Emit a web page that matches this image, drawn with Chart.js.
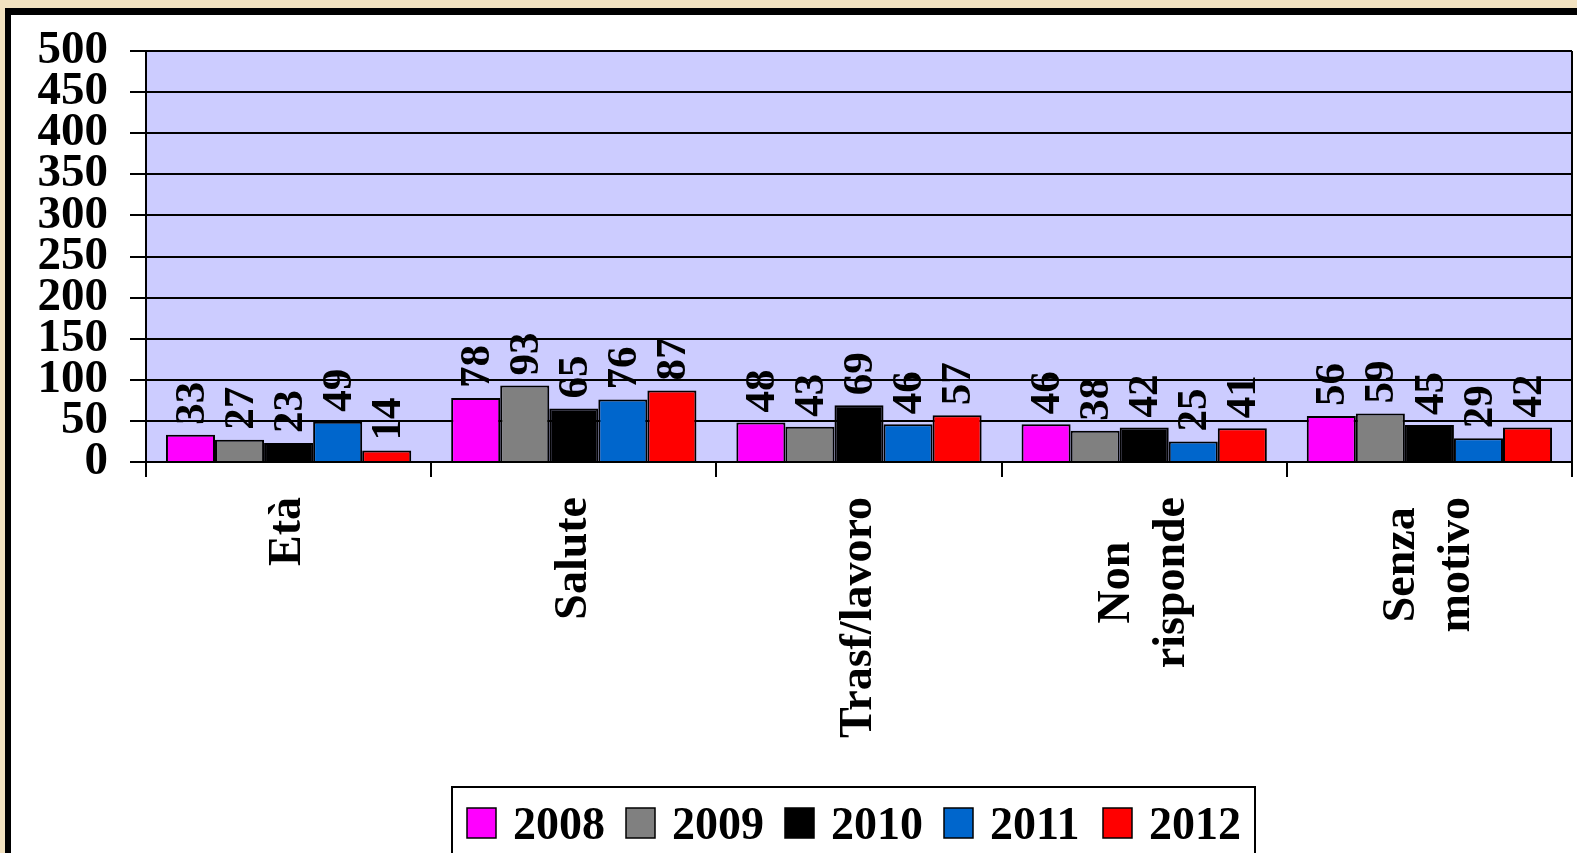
<!DOCTYPE html>
<html>
<head>
<meta charset="utf-8">
<script src="https://cdn.jsdelivr.net/npm/chart.js@4.4.0/dist/chart.umd.min.js"></script>
<style>
    html, body { margin: 0; padding: 0; overflow: hidden; background: #f2e2c0; }
    #wrap { position: relative; width: 1577px; height: 853px; }
</style>
</head>
<body>
<div id="wrap"><canvas id="myChart"></canvas></div>
<script>
// dati
var categorie = [['Età'], ['Salute'], ['Trasf/lavoro'], ['Non', 'risponde'], ['Senza', 'motivo']];
var anni = ['2008', '2009', '2010', '2011', '2012'];
var colori = ['#ff00ff', '#808080', '#000000', '#0066cc', '#ff0000'];
var v2008 = [33, 78, 48, 46, 56];
var v2009 = [27, 93, 43, 38, 59];
var v2010 = [23, 65, 69, 42, 45];
var v2011 = [49, 76, 46, 25, 29];
var v2012 = [14, 87, 57, 41, 42];
var serie = [v2008, v2009, v2010, v2011, v2012];

var FONT = '"Liberation Serif", "Times New Roman", serif';

var datasets = [];
for (var i = 0; i < anni.length; i++) {
    datasets.push({
        label: anni[i],
        data: serie[i],
        backgroundColor: colori[i],
        borderColor: '#000',
        borderWidth: 2,
        borderSkipped: 'bottom',
        categoryPercentage: 0.86,
        barPercentage: 1.0
    });
}

var sfondo = {
    id: 'sfondo',
    beforeDraw: function (chart) {
        var ctx = chart.ctx, a = chart.chartArea;
        ctx.save();
        ctx.fillStyle = '#f2e2c0';
        ctx.fillRect(0, 0, chart.width, chart.height);
        ctx.fillStyle = '#000';
        ctx.fillRect(5, 8, chart.width, chart.height);
        ctx.fillStyle = '#fff';
        ctx.fillRect(11, 15, chart.width, chart.height);
        ctx.fillStyle = '#ccccff';
        ctx.fillRect(a.left, a.top, a.right - a.left, a.bottom - a.top);
        ctx.restore();
    }
};

var etichette = {
    id: 'etichette',
    afterDatasetsDraw: function (chart) {
        var ctx = chart.ctx, a = chart.chartArea;
        ctx.save();
        // bordo destro area
        ctx.strokeStyle = '#000';
        ctx.lineWidth = 2;
        ctx.beginPath();
        ctx.moveTo(a.right, a.top);
        ctx.lineTo(a.right, a.bottom);
        ctx.stroke();
        // valori sopra le barre
        ctx.fillStyle = '#000';
        ctx.font = 'bold 43px ' + FONT;
        ctx.textAlign = 'left';
        ctx.textBaseline = 'middle';
        chart.data.datasets.forEach(function (ds, d) {
            chart.getDatasetMeta(d).data.forEach(function (bar, j) {
                ctx.save();
                ctx.translate(bar.x + 2, bar.y - 10);
                ctx.rotate(-Math.PI / 2);
                ctx.fillText(String(ds.data[j]), 0, 0);
                ctx.restore();
            });
        });
        ctx.restore();
    },
    afterDraw: function (chart) {
        var ctx = chart.ctx;
        var xs = chart.scales.x;
        ctx.save();
        // etichette categorie, ruotate
        ctx.fillStyle = '#000';
        ctx.font = 'bold 46px ' + FONT;
        ctx.textAlign = 'center';
        ctx.textBaseline = 'middle';
        var passo = 55;
        categorie.forEach(function (righe, i) {
            var cx = xs.getPixelForValue(i);
            var maxW = 0;
            righe.forEach(function (r) { maxW = Math.max(maxW, ctx.measureText(r).width); });
            var cy = 497 + maxW / 2;
            righe.forEach(function (r, k) {
                var off = (k - (righe.length - 1) / 2) * passo;
                ctx.save();
                ctx.translate(cx + off, cy);
                ctx.rotate(-Math.PI / 2);
                ctx.fillText(r, 0, 0);
                ctx.restore();
            });
        });
        // legenda
        ctx.fillStyle = '#fff';
        ctx.fillRect(452, 787, 803, 90);
        ctx.strokeStyle = '#000';
        ctx.lineWidth = 2;
        ctx.strokeRect(452, 787, 803, 90);
        ctx.font = 'bold 46px ' + FONT;
        ctx.textAlign = 'left';
        ctx.textBaseline = 'alphabetic';
        anni.forEach(function (anno, i) {
            var x = 467 + i * 159;
            ctx.fillStyle = colori[i];
            ctx.fillRect(x, 808, 29, 30);
            ctx.lineWidth = 1.5;
            ctx.strokeRect(x, 808, 29, 30);
            ctx.fillStyle = '#000';
            ctx.fillText(anno, x + 46, 839);
        });
        ctx.restore();
    }
};

new Chart(document.getElementById('myChart'), {
    type: 'bar',
    data: {
        labels: categorie.map(function (c) { return c.join(' '); }),
        datasets: datasets
    },
    options: {
        responsive: true,
        maintainAspectRatio: false,
        animation: false,
        layout: { padding: { left: 0, top: 51, right: 5, bottom: 0 } },
        plugins: {
            legend: { display: false },
            tooltip: { enabled: false }
        },
        scales: {
            x: {
                offset: true,
                grid: { display: true, offset: true, drawOnChartArea: false, drawTicks: true, tickLength: 15, color: '#000', lineWidth: 2 },
                border: { display: true, color: '#000', width: 2 },
                ticks: { display: false },
                afterFit: function (scale) { scale.height = 391; }
            },
            y: {
                min: 0,
                max: 500,
                ticks: {
                    stepSize: 50,
                    autoSkip: false,
                    padding: 22,
                    color: '#000',
                    font: { family: FONT, size: 47, weight: 'bold' }
                },
                grid: { color: '#000', lineWidth: 2, tickLength: 16 },
                border: { display: true, color: '#000', width: 2 },
                afterFit: function (scale) { scale.width = 146; }
            }
        }
    },
    plugins: [sfondo, etichette]
});
</script>
</body>
</html>
